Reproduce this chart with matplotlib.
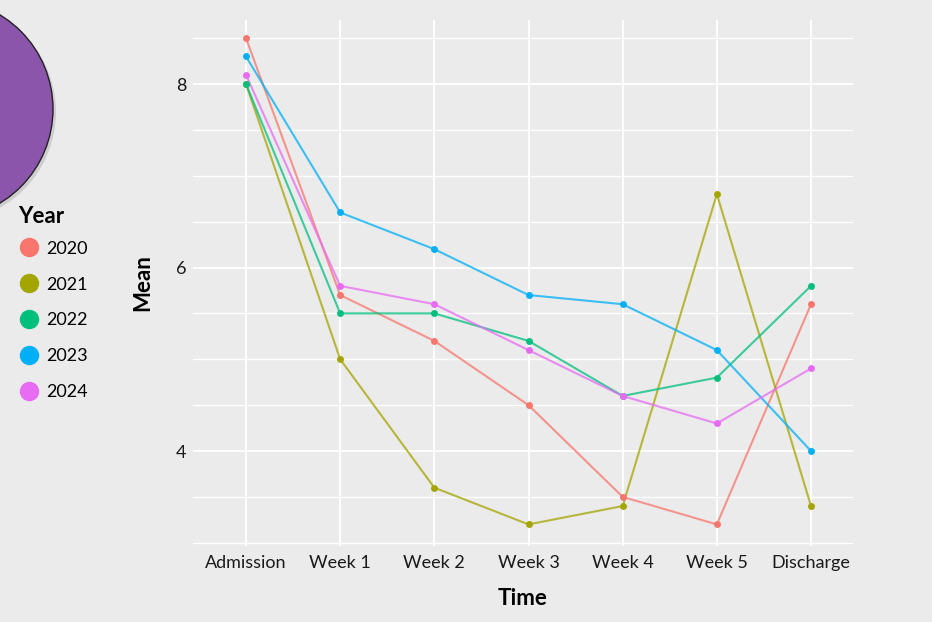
import matplotlib
matplotlib.use("Agg")
import matplotlib.pyplot as plt
from matplotlib.lines import Line2D
from matplotlib.patches import Ellipse

plt.rcParams['font.family'] = ['Lato', 'DejaVu Sans']

times = ["Admission", "Week 1", "Week 2", "Week 3", "Week 4", "Week 5", "Discharge"]
years = ["2020", "2021", "2022", "2023", "2024"]
colors = ["#F8766D", "#A3A500", "#00BF7D", "#00B0F6", "#E76BF3"]

mean_2020 = [8.5, 5.7, 5.2, 4.5, 3.5, 3.2, 5.6]
mean_2021 = [8.0, 5.0, 3.6, 3.2, 3.4, 6.8, 3.4]
mean_2022 = [8.0, 5.5, 5.5, 5.2, 4.6, 4.8, 5.8]
mean_2023 = [8.3, 6.6, 6.2, 5.7, 5.6, 5.1, 4.0]
mean_2024 = [8.1, 5.8, 5.6, 5.1, 4.6, 4.3, 4.9]
series = [mean_2020, mean_2021, mean_2022, mean_2023, mean_2024]

y_major = [4, 6, 8]
y_minor = [3, 3.5, 4.5, 5, 5.5, 6.5, 7, 7.5, 8.5]

W, H = 932, 622
bg = "#EBEBEB"
fig = plt.figure(figsize=(W/100, H/100), dpi=100, facecolor=bg)
ax = fig.add_axes([193/W, (H-545.5)/H, (853-193)/W, (545.5-19.8)/H])
ax.set_facecolor(bg)

x = list(range(len(times)))
for vals, c in zip(series, colors):
    ax.plot(x, vals, color=c, lw=1.5, alpha=0.75, zorder=3)
for vals, c in zip(series, colors):
    ax.plot(x, vals, 'o', color=c, ms=5, mec='none', zorder=4)

ax.set_xlim(-0.563, 6.446)
ax.set_ylim(2.97, 8.7)
ax.set_xticks(x)
ax.set_xticklabels(times, fontsize=13, color="#1a1a1a")
ax.set_yticks(y_major)
ax.set_yticklabels([str(v) for v in y_major], fontsize=13, color="#1a1a1a")
ax.set_yticks(y_minor, minor=True)
ax.tick_params(axis='both', which='both', length=0)
ax.tick_params(axis='x', pad=7)
ax.tick_params(axis='y', pad=5)
ax.grid(True, which='major', color='white', lw=1.4, zorder=0)
ax.grid(True, which='minor', axis='y', color='white', lw=1.0, zorder=0)
ax.set_axisbelow(True)
for s in ax.spines.values():
    s.set_visible(False)

ax.set_xlabel("Time", fontsize=16, fontweight='bold', labelpad=12)
ax.set_ylabel("Mean", fontsize=16, fontweight='bold', labelpad=16)

# decorative purple circle at top-left, with a soft shadow
r = 110
shadow = Ellipse((-54/W, 1-112/H), 2*r/W, 2*r/H, transform=fig.transFigure,
                 facecolor="#000000", alpha=0.12, edgecolor='none', zorder=0.5)
fig.patches.append(shadow)
circ = Ellipse((-57/W, 1-109/H), 2*r/W, 2*r/H, transform=fig.transFigure,
               facecolor="#8B55AB", edgecolor="#222222", lw=1.0, zorder=1)
fig.patches.append(circ)

fig.text(18/W, 1-216/H, "Year", fontsize=16, fontweight='bold', ha='left', va='center')
handles = [Line2D([], [], marker='o', ls='none', color=c, ms=14, mec='none') for c in colors]
leg = fig.legend(handles, years, loc='upper left', bbox_to_anchor=(6/W, 1-228/H),
                 frameon=False, fontsize=13,
                 handletextpad=0.35, labelspacing=1.1,
                 handlelength=1.2, borderpad=0.2)

fig.savefig("out.png", dpi=100, facecolor=bg)
